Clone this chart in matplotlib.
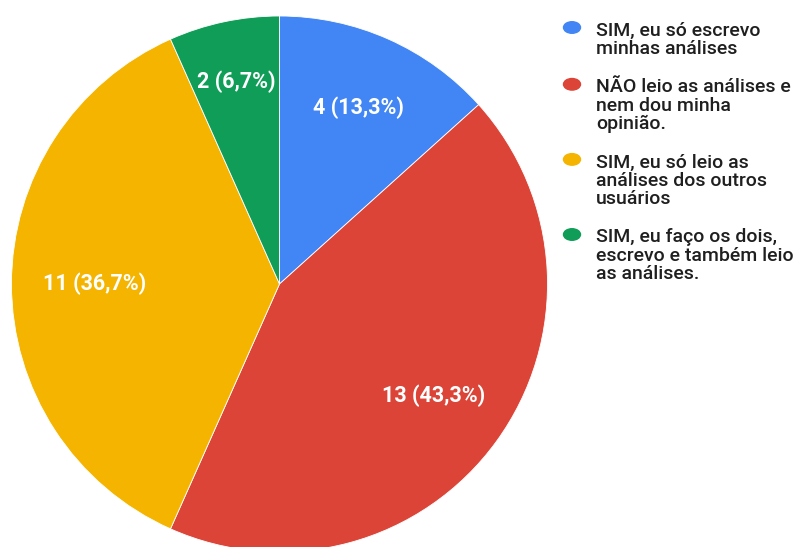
import numpy as np
import matplotlib
matplotlib.use('Agg')
import matplotlib.pyplot as plt

plt.rcParams['font.family'] = ['Roboto', 'DejaVu Sans']

# respostas da pesquisa
respostas = ['SIM, eu só escrevo\nminhas análises',
             'NÃO leio as análises e\nnem dou minha\nopinião.',
             'SIM, eu só leio as\nanálises dos outros\nusuários',
             'SIM, eu faço os dois,\nescrevo e também leio\nas análises.']
contagens = [4, 13, 11, 2]
cores = ['#4285F4', '#DB4437', '#F4B400', '#0F9D58']
dist_rotulo = [0.72, 0.71, 0.69, 0.77]

W, H = 804, 547
fig = plt.figure(figsize=(W / 100, H / 100), dpi=100)

# area da pizza: centro (279.5, 284) px, raio 268 px
cx, cy, r = 279.5, 284, 268
ax = fig.add_axes([(cx - r) / W, (H - cy - r) / H, 2 * r / W, 2 * r / H])
wedges, _ = ax.pie(contagens, colors=cores, startangle=90, counterclock=False,
                   radius=1, wedgeprops=dict(linewidth=0.6, edgecolor='white'))
ax.set_xlim(-1, 1)
ax.set_ylim(-1, 1)
ax.set_aspect('equal')
ax.axis('off')

total = sum(contagens)
for w, n, d in zip(wedges, contagens, dist_rotulo):
    ang = np.deg2rad((w.theta1 + w.theta2) / 2)
    pct = ('%.1f' % (100 * n / total)).replace('.', ',')
    ax.text(d * np.cos(ang), d * np.sin(ang), '%d (%s%%)' % (n, pct),
            ha='center', va='center', color='white', fontsize=15.5,
            fontweight='bold')

# legenda desenhada linha a linha (bolinha alinhada com a 1a linha)
linha = 18.3
y = 35.5
for texto, cor in zip(respostas, cores):
    fig.patches.append(plt.Circle((572 / W, 1 - (y - 8) / H), 8.5 / W,
                                  transform=fig.transFigure, color=cor))
    partes = texto.split('\n')
    for i, p in enumerate(partes):
        fig.text(596 / W, 1 - (y + i * linha) / H, p, ha='left',
                 va='baseline', fontsize=14, color='#1f1f1f',
                 fontweight='medium')
    y += (len(partes) - 1) * linha + 38.5

fig.savefig('out.png', dpi=100)
